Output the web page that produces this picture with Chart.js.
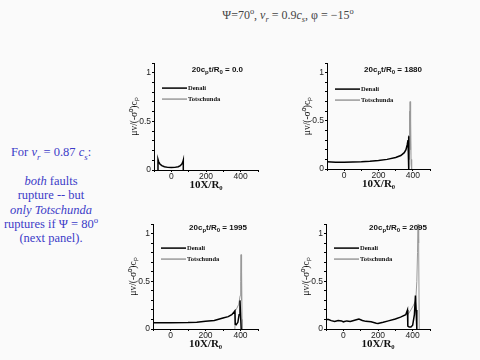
<!DOCTYPE html>
<html>
<head>
<meta charset="utf-8">
<script src="https://cdn.jsdelivr.net/npm/chart.js@4.4.0/dist/chart.umd.min.js"></script>
<style>
  body { margin: 0; width: 480px; height: 360px; background: #fafafa; position: relative; overflow: hidden;
         font-family: 'Liberation Serif', 'Times New Roman', serif; }
  #head { position: absolute; left: 0; top: 8px; width: 576px; text-align: center; font-size: 12px; color: #444; line-height: 14px; }
  #note { position: absolute; left: 0; top: 145px; width: 102px; text-align: center; font-size: 12.5px; line-height: 14.4px; color: #3c3cc8; }
  sup, sub { font-size: 70%; line-height: 0; }
  canvas { position: absolute; }
</style>
</head>
<body>
<div id="head">Ψ=70<sup>o</sup>, <i>v<sub>r</sub></i> = 0.9<i>c<sub>s</sub></i>, φ = −15<sup>o</sup></div>
<div id="note">For <i>v<sub>r</sub></i> = 0.87 <i>c<sub>s</sub></i>:<br><br><i>both</i> faults<br>rupture -- but<br><i>only Totschunda</i><br>ruptures if Ψ = 80<sup>o</sup><br>(next panel).</div>

<canvas id="p0" width="134" height="137" style="left:128px; top:57px"></canvas>
<canvas id="p1" width="133" height="136" style="left:301px; top:57px"></canvas>
<canvas id="p2" width="135" height="135" style="left:127px; top:218px"></canvas>
<canvas id="p3" width="134" height="135" style="left:300px; top:218px"></canvas>

<script>
// time stamps shown in each panel (20 c_p t / R_0)
var timeLabels = ['0.0', '1880', '1995', '2095'];
var seriesNames = ['Denali', 'Totschunda'];
var xTickLabels = [0, 200, 400];
var yTickLabels = [0, 0.5, 1];

// t = 0.0
var denali0X = [-77, -77, -73, -66, -55, -40, -20, 0, 20, 40, 52, 60, 66, 69, 69];
var denali0Y = [0, 0.11, 0.085, 0.062, 0.045, 0.033, 0.027, 0.025, 0.027, 0.034, 0.045, 0.06, 0.08, 0.1, 0];
var tots0X = [];
var tots0Y = [];

// t = 1880
var denali1X = [-100, -50, 0, 50, 100, 150, 200, 250, 300, 330, 350, 360, 367, 372, 375, 377];
var denali1Y = [0.075, 0.071, 0.07, 0.072, 0.075, 0.08, 0.088, 0.1, 0.12, 0.14, 0.17, 0.2, 0.25, 0.3, 0.34, 0];
var tots1X = [374, 376, 378, 380, 382, 384, 386, 388, 390, 392, 394];
var tots1Y = [0, 0.35, 0.1, 0.6, 0.15, 0.7, 0.2, 0.5, 0.05, 0.1, 0];

// t = 1995
var denali2X = [-100, 0, 100, 150, 200, 250, 300, 330, 350, 362, 368, 370, 375, 385, 392, 397, 401, 404];
var denali2Y = [0.065, 0.065, 0.068, 0.072, 0.08, 0.09, 0.115, 0.13, 0.15, 0.175, 0.19, 0.05, 0.045, 0.07, 0.15, 0.3, 0.12, 0];
var tots2X = [368, 370, 380, 390, 398, 401, 403, 405, 407, 409, 411];
var tots2Y = [0, 0.19, 0.22, 0.26, 0.35, 0.5, 0.78, 0.3, 0.6, 0.1, 0];

// t = 2095
var denali3X = [-100, -85, -70, -50, -30, -10, 0, 20, 40, 60, 80, 90, 110, 130, 160, 190, 200, 230, 260, 300, 330, 360, 370, 372, 380, 390, 400, 410, 416, 420, 424];
var denali3Y = [0.1, 0.1, 0.088, 0.08, 0.09, 0.085, 0.075, 0.085, 0.08, 0.09, 0.1, 0.105, 0.09, 0.08, 0.075, 0.06, 0.058, 0.07, 0.085, 0.105, 0.125, 0.15, 0.2, 0.03, 0.02, 0.02, 0.04, 0.15, 0.35, 0.2, 0];
var tots3X = [372, 390, 405, 418, 424, 428, 431, 433, 436, 438];
var tots3Y = [0.15, 0.2, 0.25, 0.3, 0.5, 0.8, 1.2, 1.2, 0.9, 0];

function pts(xs, ys) {
  return xs.map(function (x, i) { return { x: x, y: ys[i] }; });
}

// draws the "20c_p t/R_0 = ..." title and the small line legend inside the plot area
var panelText = {
  id: 'panelText',
  afterDraw: function (chart, args, opts) {
    var ctx = chart.ctx, area = chart.chartArea;
    ctx.save();
    // title with subscripts
    var parts = [['20c', 0], ['p', 1], ['t/R', 0], ['0', 1], [' = ' + opts.time, 0]];
    var big = "bold 8px 'Liberation Sans', Arial, sans-serif";
    var small = "bold 6px 'Liberation Sans', Arial, sans-serif";
    var total = 0;
    parts.forEach(function (p) { ctx.font = p[1] ? small : big; total += ctx.measureText(p[0]).width; });
    var x = area.right - opts.titleRight - total;
    var y = area.top + opts.titleTop;
    ctx.textBaseline = 'middle';
    ctx.textAlign = 'left';
    ctx.fillStyle = '#111';
    parts.forEach(function (p) {
      ctx.font = p[1] ? small : big;
      ctx.fillText(p[0], x, y + (p[1] ? 2 : 0));
      x += ctx.measureText(p[0]).width;
    });
    // legend
    ctx.font = "bold 6.5px 'Liberation Serif', 'Times New Roman', serif";
    chart.data.datasets.forEach(function (ds, i) {
      var ly = area.top + opts.legendTop + i * 11;
      ctx.strokeStyle = ds.borderColor;
      ctx.lineWidth = 1.5;
      ctx.beginPath();
      ctx.moveTo(area.left + 8, ly);
      ctx.lineTo(area.left + 33, ly);
      ctx.stroke();
      ctx.fillStyle = '#111';
      ctx.fillText(ds.label, area.left + 34, ly);
    });
    ctx.restore();
  }
};

var panels = [
  { id: 'p0', time: timeLabels[0], d: pts(denali0X, denali0Y), t: pts(tots0X, tots0Y), titleTop: 7, titleRight: 15, legendTop: 25 },
  { id: 'p1', time: timeLabels[1], d: pts(denali1X, denali1Y), t: pts(tots1X, tots1Y), titleTop: 7, titleRight: 8, legendTop: 26 },
  { id: 'p2', time: timeLabels[2], d: pts(denali2X, denali2Y), t: pts(tots2X, tots2Y), titleTop: 4, titleRight: 11, legendTop: 24 },
  { id: 'p3', time: timeLabels[3], d: pts(denali3X, denali3Y), t: pts(tots3X, tots3Y), titleTop: 4, titleRight: 3, legendTop: 24 }
];

panels.forEach(function (p) {
  var ctx = document.getElementById(p.id).getContext('2d');
  new Chart(ctx, {
    type: 'line',
    data: {
      datasets: [{
        label: seriesNames[0],
        data: p.d,
        borderColor: '#000',
        borderWidth: 1.5,
        pointRadius: 0,
        fill: false
      }, {
        label: seriesNames[1],
        data: p.t,
        borderColor: '#9a9a9a',
        borderWidth: 1,
        pointRadius: 0,
        fill: false
      }]
    },
    plugins: [panelText],
    options: {
      responsive: false,
      animation: false,
      layout: { padding: { top: 5, right: 4, left: 0, bottom: 0 } },
      plugins: {
        legend: { display: false },
        tooltip: { enabled: false },
        panelText: { time: p.time, titleTop: p.titleTop, titleRight: p.titleRight, legendTop: p.legendTop }
      },
      scales: {
        x: {
          type: 'linear', min: -100, max: 500,
          ticks: {
            stepSize: 100, autoSkip: false, maxRotation: 0, padding: 0, color: '#222',
            font: { family: "'Liberation Sans', Arial, sans-serif", size: 8.5 },
            callback: function (v) { return xTickLabels.indexOf(v) >= 0 ? String(v) : ''; }
          },
          grid: { drawOnChartArea: false, tickLength: 2, color: '#000' },
          border: { color: '#000', width: 1 },
          title: { display: true, text: '10X/R₀', color: '#111', padding: { top: 0, bottom: 2 },
                   font: { family: "'Liberation Serif', 'Times New Roman', serif", size: 11, weight: 'bold' } },
          afterFit: function (s) { s.height = 24; }
        },
        y: {
          min: 0, max: 1.1,
          ticks: {
            stepSize: 0.1, autoSkip: false, padding: 1, color: '#222',
            font: { family: "'Liberation Sans', Arial, sans-serif", size: 8.5 },
            callback: function (v) {
              return yTickLabels.some(function (t) { return Math.abs(t - v) < 1e-6; }) ? String(Math.round(v * 10) / 10) : '';
            }
          },
          grid: { drawOnChartArea: false, tickLength: 2, color: '#000' },
          border: { color: '#000', width: 1 },
          title: { display: true, text: 'μv/(-σ⁰)cₚ', color: '#111', padding: { top: 1, bottom: 0 },
                   font: { family: "'Liberation Serif', 'Times New Roman', serif", size: 9.5 } },
          afterFit: function (s) { s.width = 26; }
        }
      }
    }
  });
});
</script>
</body>
</html>
